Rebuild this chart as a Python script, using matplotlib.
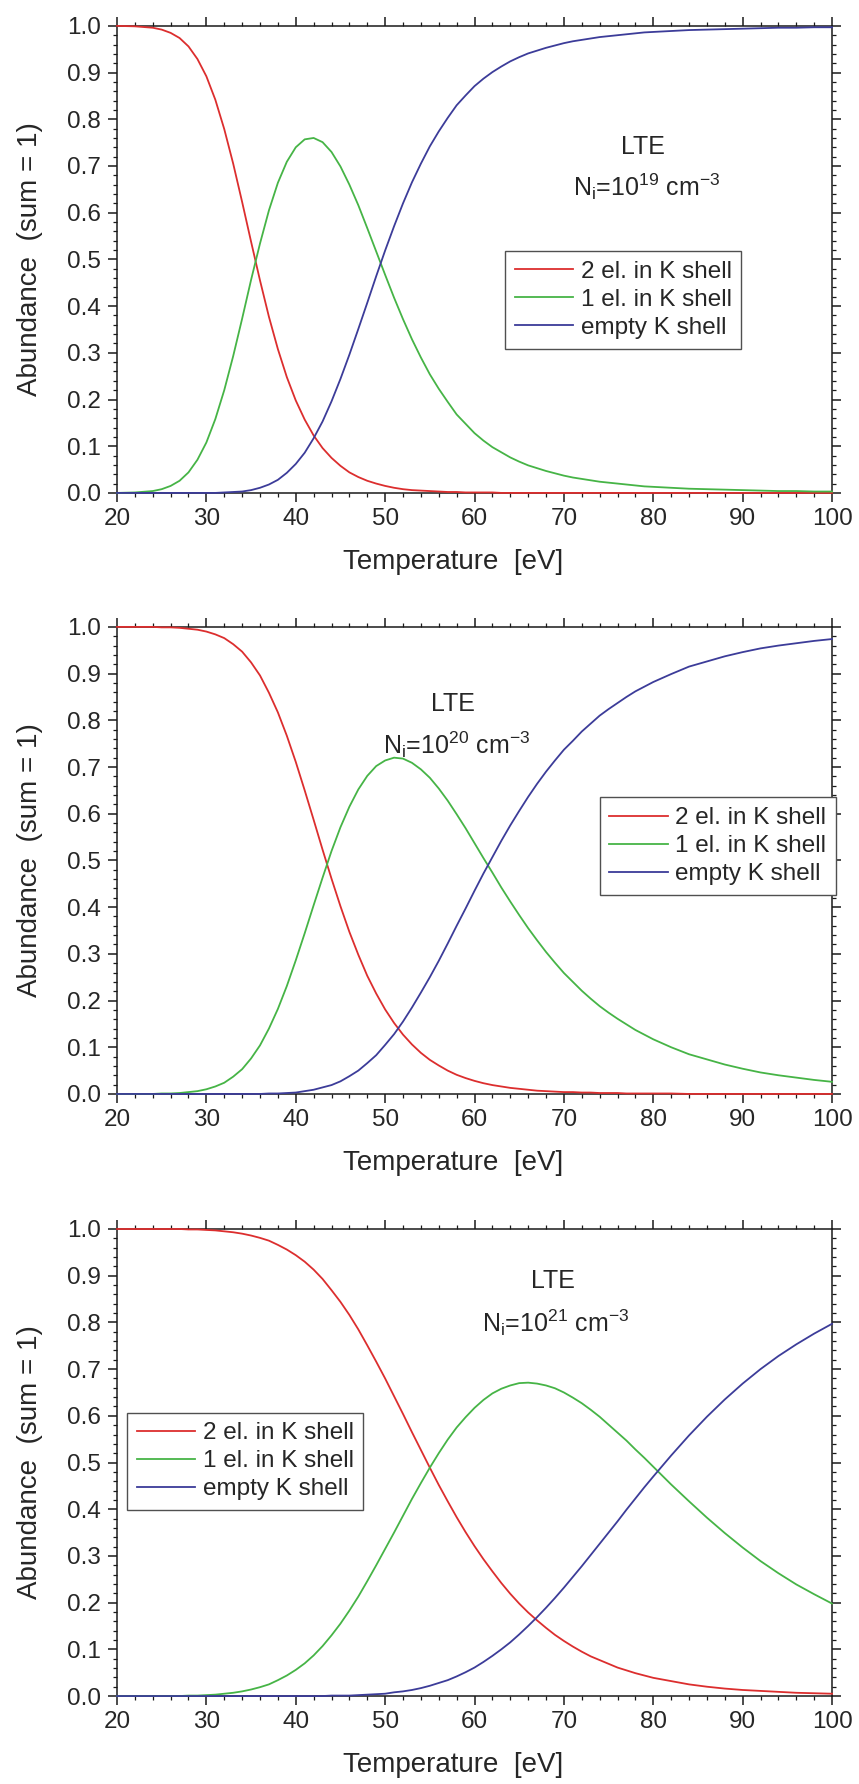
import matplotlib
matplotlib.use("Agg")
import matplotlib.pyplot as plt
from matplotlib.ticker import MultipleLocator, FormatStrFormatter

plt.rcParams["font.family"] = ["Liberation Sans", "DejaVu Sans"]
plt.rcParams["mathtext.default"] = "regular"

# temperature grid [eV], finer where the curves bend
temperature = [20, 22, 24, 25, 26, 27, 28, 29, 30, 31,
               32, 33, 34, 35, 36, 37, 38, 39, 40, 41,
               42, 43, 44, 45, 46, 47, 48, 49, 50, 51,
               52, 53, 54, 55, 56, 57, 58, 59, 60, 61,
               62, 63, 64, 65, 66, 67, 68, 69, 70, 71,
               72, 73, 74, 75, 76, 77, 78, 79, 80, 82,
               84, 86, 88, 90, 92, 94, 96, 98, 100]

# N_i = 1e19 cm^-3
two_el_19 = [1.000, 0.999, 0.996, 0.992, 0.985, 0.974, 0.956, 0.929, 0.892, 0.842,
             0.779, 0.705, 0.623, 0.538, 0.455, 0.377, 0.308, 0.248, 0.198, 0.157,
             0.123, 0.096, 0.075, 0.058, 0.044, 0.034, 0.026, 0.020, 0.015, 0.011,
             0.008, 0.006, 0.005, 0.004, 0.003, 0.002, 0.002, 0.001, 0.001, 0.001,
             0.001, 0.000, 0.000, 0.000, 0.000, 0.000, 0.000, 0.000, 0.000, 0.000,
             0.000, 0.000, 0.000, 0.000, 0.000, 0.000, 0.000, 0.000, 0.000, 0.000,
             0.000, 0.000, 0.000, 0.000, 0.000, 0.000, 0.000, 0.000, 0.000]
one_el_19 = [0.000, 0.001, 0.004, 0.008, 0.015, 0.026, 0.044, 0.071, 0.108, 0.158,
             0.220, 0.293, 0.373, 0.456, 0.534, 0.605, 0.664, 0.709, 0.740, 0.757,
             0.760, 0.751, 0.730, 0.699, 0.660, 0.616, 0.567, 0.517, 0.467, 0.418,
             0.372, 0.329, 0.290, 0.254, 0.223, 0.195, 0.168, 0.148, 0.128, 0.112,
             0.098, 0.087, 0.076, 0.067, 0.059, 0.053, 0.047, 0.042, 0.037, 0.033,
             0.030, 0.027, 0.024, 0.022, 0.020, 0.018, 0.016, 0.014, 0.013, 0.011,
             0.009, 0.008, 0.007, 0.006, 0.005, 0.004, 0.004, 0.003, 0.003]
empty_19 = [0.000, 0.000, 0.000, 0.000, 0.000, 0.000, 0.000, 0.000, 0.000, 0.000,
            0.001, 0.002, 0.003, 0.006, 0.011, 0.018, 0.028, 0.043, 0.062, 0.086,
            0.117, 0.153, 0.196, 0.244, 0.296, 0.351, 0.407, 0.464, 0.519, 0.571,
            0.620, 0.665, 0.705, 0.742, 0.774, 0.803, 0.830, 0.851, 0.871, 0.887,
            0.901, 0.913, 0.924, 0.933, 0.941, 0.947, 0.953, 0.958, 0.963, 0.967,
            0.970, 0.973, 0.976, 0.978, 0.980, 0.982, 0.984, 0.986, 0.987, 0.989,
            0.991, 0.992, 0.993, 0.994, 0.995, 0.996, 0.996, 0.997, 0.997]

# N_i = 1e20 cm^-3
two_el_20 = [1.000, 1.000, 1.000, 0.999, 0.999, 0.998, 0.996, 0.994, 0.990, 0.984,
             0.976, 0.963, 0.947, 0.924, 0.896, 0.859, 0.817, 0.767, 0.711, 0.650,
             0.587, 0.523, 0.461, 0.402, 0.347, 0.298, 0.253, 0.215, 0.181, 0.152,
             0.127, 0.106, 0.088, 0.073, 0.061, 0.050, 0.041, 0.034, 0.028, 0.023,
             0.019, 0.016, 0.013, 0.011, 0.009, 0.007, 0.006, 0.005, 0.004, 0.004,
             0.003, 0.003, 0.002, 0.002, 0.002, 0.001, 0.001, 0.001, 0.001, 0.001,
             0.000, 0.000, 0.000, 0.000, 0.000, 0.000, 0.000, 0.000, 0.000]
one_el_20 = [0.000, 0.000, 0.000, 0.001, 0.001, 0.002, 0.004, 0.006, 0.010, 0.016,
             0.024, 0.037, 0.053, 0.076, 0.104, 0.140, 0.182, 0.231, 0.286, 0.344,
             0.404, 0.463, 0.520, 0.571, 0.615, 0.652, 0.681, 0.702, 0.714, 0.720,
             0.718, 0.709, 0.695, 0.677, 0.654, 0.628, 0.599, 0.569, 0.537, 0.505,
             0.474, 0.442, 0.412, 0.383, 0.355, 0.329, 0.304, 0.281, 0.259, 0.240,
             0.221, 0.204, 0.188, 0.174, 0.161, 0.149, 0.137, 0.127, 0.117, 0.100,
             0.085, 0.074, 0.063, 0.054, 0.046, 0.040, 0.035, 0.030, 0.026]
empty_20 = [0.000, 0.000, 0.000, 0.000, 0.000, 0.000, 0.000, 0.000, 0.000, 0.000,
            0.000, 0.000, 0.000, 0.000, 0.000, 0.001, 0.001, 0.002, 0.003, 0.006,
            0.009, 0.014, 0.019, 0.027, 0.038, 0.050, 0.066, 0.083, 0.105, 0.128,
            0.155, 0.185, 0.217, 0.250, 0.285, 0.322, 0.360, 0.397, 0.435, 0.472,
            0.507, 0.542, 0.575, 0.606, 0.636, 0.664, 0.690, 0.714, 0.737, 0.756,
            0.776, 0.793, 0.810, 0.824, 0.837, 0.850, 0.862, 0.872, 0.882, 0.899,
            0.915, 0.926, 0.937, 0.946, 0.954, 0.960, 0.965, 0.970, 0.974]

# N_i = 1e21 cm^-3
two_el_21 = [1.000, 1.000, 1.000, 1.000, 1.000, 1.000, 0.999, 0.999, 0.998, 0.997,
             0.995, 0.993, 0.990, 0.986, 0.981, 0.975, 0.966, 0.956, 0.944, 0.930,
             0.913, 0.893, 0.869, 0.844, 0.816, 0.785, 0.751, 0.716, 0.680, 0.642,
             0.604, 0.565, 0.527, 0.489, 0.452, 0.417, 0.383, 0.351, 0.321, 0.293,
             0.267, 0.242, 0.219, 0.198, 0.179, 0.162, 0.146, 0.131, 0.118, 0.106,
             0.095, 0.085, 0.077, 0.069, 0.061, 0.055, 0.049, 0.044, 0.039, 0.032,
             0.025, 0.020, 0.016, 0.013, 0.011, 0.009, 0.007, 0.006, 0.005]
one_el_21 = [0.000, 0.000, 0.000, 0.000, 0.000, 0.000, 0.001, 0.001, 0.002, 0.003,
             0.005, 0.007, 0.010, 0.014, 0.019, 0.025, 0.034, 0.044, 0.056, 0.070,
             0.087, 0.107, 0.130, 0.155, 0.183, 0.213, 0.246, 0.280, 0.315, 0.350,
             0.386, 0.422, 0.456, 0.489, 0.520, 0.549, 0.575, 0.597, 0.617, 0.634,
             0.648, 0.658, 0.665, 0.670, 0.671, 0.669, 0.665, 0.659, 0.650, 0.639,
             0.627, 0.613, 0.598, 0.581, 0.564, 0.547, 0.528, 0.510, 0.491, 0.453,
             0.417, 0.382, 0.349, 0.318, 0.289, 0.263, 0.239, 0.218, 0.198]
empty_21 = [0.000, 0.000, 0.000, 0.000, 0.000, 0.000, 0.000, 0.000, 0.000, 0.000,
            0.000, 0.000, 0.000, 0.000, 0.000, 0.000, 0.000, 0.000, 0.000, 0.000,
            0.000, 0.000, 0.001, 0.001, 0.001, 0.002, 0.003, 0.004, 0.005, 0.008,
            0.010, 0.013, 0.017, 0.022, 0.028, 0.034, 0.042, 0.051, 0.061, 0.073,
            0.086, 0.100, 0.115, 0.132, 0.150, 0.169, 0.189, 0.210, 0.232, 0.255,
            0.278, 0.302, 0.326, 0.350, 0.374, 0.399, 0.423, 0.447, 0.470, 0.515,
            0.558, 0.598, 0.635, 0.669, 0.700, 0.728, 0.753, 0.776, 0.797]

labels = ["2 el. in K shell", "1 el. in K shell", "empty K shell"]
colors = ["#dc2e2e", "#46b446", "#3c3c99"]
text_color = "#262626"

panels = [
    {"series": (two_el_19, one_el_19, empty_19), "exp": "19", "bottom": 0.7237,
     "lte": (0.736, 0.741), "ni": (0.741, 0.655),
     "loc": "upper left", "anchor": (0.543, 0.518)},
    {"series": (two_el_20, one_el_20, empty_20), "exp": "20", "bottom": 0.3868,
     "lte": (0.47, 0.835), "ni": (0.475, 0.747),
     "loc": "upper right", "anchor": (1.005, 0.635)},
    {"series": (two_el_21, one_el_21, empty_21), "exp": "21", "bottom": 0.0493,
     "lte": (0.61, 0.888), "ni": (0.613, 0.80),
     "loc": "upper left", "anchor": (0.0145, 0.607)},
]

fig = plt.figure(figsize=(8.59, 17.84), dpi=100)

for p in panels:
    ax = fig.add_axes([0.1362, p["bottom"], 0.8324, 0.2618])
    for values, name, c in zip(p["series"], labels, colors):
        ax.plot(temperature, values, color=c, lw=1.3, label=name,
                zorder=3, clip_on=False)

    ax.set_xlim(20, 100)
    ax.set_ylim(0, 1)
    ax.xaxis.set_major_locator(MultipleLocator(10))
    ax.xaxis.set_minor_locator(MultipleLocator(2))
    ax.yaxis.set_major_locator(MultipleLocator(0.1))
    ax.yaxis.set_minor_locator(MultipleLocator(0.02))
    ax.yaxis.set_major_formatter(FormatStrFormatter("%.1f"))

    for s in ax.spines.values():
        s.set_linewidth(1.1)
        s.set_color("#1a1a1a")
    ax.tick_params(which="both", direction="out", top=True, right=True,
                   colors="#1a1a1a", labelcolor=text_color, labelsize=17.5)
    ax.tick_params(which="major", length=6.5, width=1.1)
    ax.tick_params(which="minor", length=3.2, width=0.9)
    ax.tick_params(axis="x", pad=4)
    ax.tick_params(axis="y", pad=5)

    ax.set_xlabel("Temperature  [eV]", fontsize=20, color=text_color)
    ax.xaxis.set_label_coords(0.47, -0.12)
    ax.set_ylabel("Abundance  (sum = 1)", fontsize=20, color=text_color)
    ax.yaxis.set_label_coords(-0.1035, 0.5)

    ax.text(*p["lte"], "LTE", transform=ax.transAxes, ha="center", va="center",
            fontsize=18, color=text_color)
    ax.text(*p["ni"], "N$_i$=10$^{%s}$ cm$^{-3}$" % p["exp"], transform=ax.transAxes,
            ha="center", va="center", fontsize=18, color=text_color)

    leg = ax.legend(loc=p["loc"], bbox_to_anchor=p["anchor"], fontsize=17.5,
                    frameon=True, fancybox=False, framealpha=1, edgecolor="#505050",
                    handlelength=2.4, handletextpad=0.3, labelspacing=0.25,
                    borderpad=0.4, borderaxespad=0)
    leg.get_frame().set_linewidth(1.0)
    for t in leg.get_texts():
        t.set_color(text_color)

fig.savefig("out.png", dpi=100)
